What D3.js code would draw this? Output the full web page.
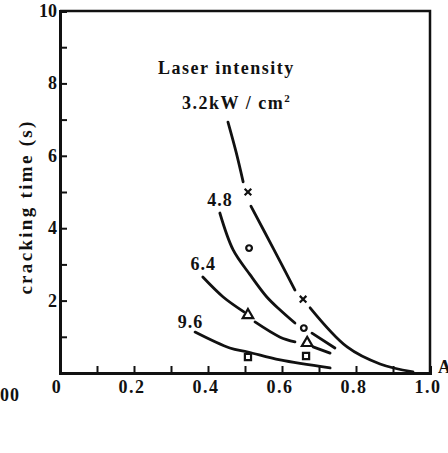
<!DOCTYPE html>
<html>
<script src='https://d3js.org/d3.v7.min.js'></script>
<style>
 body {margin:0; background:#fff;}
 text {font-family:'Liberation Serif','Times New Roman',serif; font-weight:bold; fill:#111;}
</style>
<body onload='init()'>
<svg width=448 height=453></svg>
<script>
// tick values
var xTickMarks = [0,0.1,0.2,0.3,0.4,0.5,0.6,0.7,0.8,0.9,1.0];
var xTickLabels = ["0","0.2","0.4","0.6","0.8","1.0"];
var yTickMarks = [0,1,2,3,4,5,6,7,8,9,10];
var yTickLabels = ["2","4","6","8","10"];

// curves, each split into pieces (gaps around the markers)
var curve32 = [
 [[0.454,6.93],[0.476,6.10],[0.495,5.28]],
 [[0.516,4.61],[0.576,3.45],[0.635,2.29]],
 [[0.676,1.80],[0.776,0.72],[0.865,0.25],[0.954,0.03]]
];
var curve48 = [
 [[0.432,4.42],[0.468,3.40],[0.514,2.71],[0.559,2.10],[0.595,1.74],[0.635,1.38]],
 [[0.681,1.10],[0.743,0.69]]
];
var curve64 = [
 [[0.386,2.65],[0.441,2.10],[0.497,1.69]],
 [[0.527,1.41],[0.595,0.99],[0.635,0.86]],
 [[0.684,0.72],[0.730,0.55]]
];
var curve96 = [
 [[0.365,1.13],[0.459,0.69],[0.508,0.58],[0.595,0.36],[0.730,0.14]]
];

// measured points
var pts32 = [[0.508,5.0],[0.657,2.04]];
var pts48 = [[0.511,3.45],[0.659,1.24]];
var pts64 = [[0.508,1.60],[0.668,0.83]];
var pts96 = [[0.508,0.44],[0.665,0.47]];

var curveLabels = ["3.2kW/cm²","4.8","6.4","9.6"];

function init() {
 var svg = d3.select("svg");
 var x = d3.scaleLinear().domain([0,1]).range([60,430]);
 var y = d3.scaleLinear().domain([0,10]).range([373,11]);

 // frame
 svg.append("path")
  .attr("d", "M"+x(0)+","+y(10)+"H"+x(1)+"V"+y(0))
  .attr("fill","none").attr("stroke","#111").attr("stroke-width",2.5);

 var ax = svg.append("g").attr("transform","translate(0,"+y(0)+")")
  .call(d3.axisBottom(x).tickValues(xTickMarks).tickSize(-7).tickFormat(""));
 var ay = svg.append("g").attr("transform","translate("+x(0)+",0)")
  .call(d3.axisLeft(y).tickValues(yTickMarks).tickSize(-7).tickFormat(""));
 [ax,ay].forEach(function(g){
  g.select(".domain").attr("stroke","#111").attr("stroke-width",3);
  g.selectAll(".tick line").attr("stroke","#111").attr("stroke-width",2);
 });

 // tick labels
 svg.selectAll(".xl").data(xTickLabels).enter().append("text")
  .attr("x", function(d){ return x(+d) - (d=="0"?3:2); })
  .attr("y", 393).attr("text-anchor","middle")
  .style("font-size","18px").style("letter-spacing","1.5px")
  .text(function(d){ return d; });
 svg.selectAll(".yl").data(yTickLabels).enter().append("text")
  .attr("x", 57).attr("y", function(d){ return y(+d)+6; })
  .attr("text-anchor","end").style("font-size","18px")
  .text(function(d){ return d; });

 // axis title and cut-off neighbours
 svg.append("text").attr("transform","translate(32,207) rotate(-90)")
  .attr("text-anchor","middle").style("font-size","19px").style("letter-spacing","2.3px")
  .text("cracking time (s)");
 svg.append("text").attr("x",0).attr("y",401).style("font-size","18px").style("letter-spacing","1px").text("00");
 svg.append("text").attr("x",438).attr("y",373).style("font-size","18px").text("A");

 // curves
 var line = d3.line().x(function(d){return x(d[0]);}).y(function(d){return y(d[1]);})
  .curve(d3.curveCatmullRom);
 [curve32,curve48,curve64,curve96].forEach(function(c){
  svg.append("g").selectAll("path").data(c).enter().append("path")
   .attr("d", line).attr("fill","none").attr("stroke","#111")
   .attr("stroke-width",2.8).attr("stroke-linecap","round");
 });

 // markers
 var sets = [[pts32,d3.symbolTimes,30],[pts48,d3.symbolCircle,26],[pts64,d3.symbolTriangle,48],[pts96,d3.symbolSquare,38]];
 sets.forEach(function(s){
  svg.append("g").selectAll("path").data(s[0]).enter().append("path")
   .attr("transform", function(d){ return "translate("+x(d[0])+","+y(d[1])+")"; })
   .attr("d", d3.symbol().type(s[1]).size(s[2]))
   .attr("fill","none").attr("stroke","#111").attr("stroke-width",2.2);
 });

 // texts in the plot
 svg.append("text").attr("x",x(0.265)).attr("y",y(8.25))
  .style("font-size","18px").style("letter-spacing","1.5px").text("Laser intensity");
 var t = svg.append("text").attr("x",x(0.33)).attr("y",y(7.3))
  .style("font-size","18px").style("letter-spacing","1.5px");
 t.append("tspan").text("3.2kW / cm");
 t.append("tspan").attr("dy",-7).style("font-size","11px").text("2");
 var lab = [[curveLabels[1],0.398,4.6],[curveLabels[2],0.353,2.85],[curveLabels[3],0.318,1.25]];
 svg.selectAll(".cl").data(lab).enter().append("text")
  .attr("x",function(d){return x(d[1]);}).attr("y",function(d){return y(d[2]);})
  .style("font-size","18px").style("letter-spacing","1px").text(function(d){return d[0];});
}
</script>
</body>
</html>
